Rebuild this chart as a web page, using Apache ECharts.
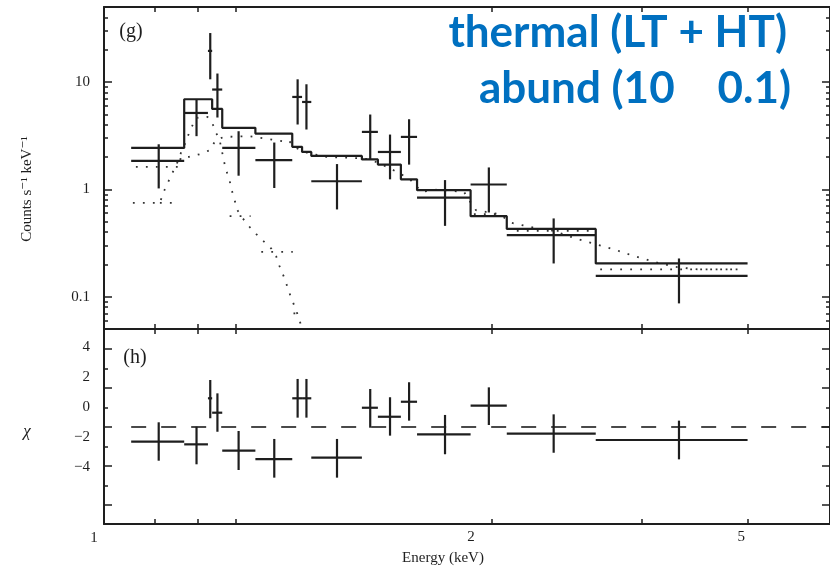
<!DOCTYPE html>
<html><head><meta charset="utf-8">
<script src="https://cdn.jsdelivr.net/npm/echarts@6/dist/echarts.min.js"></script>
<style>html,body{margin:0;padding:0;background:#fff}#c{width:830px;height:571px}</style>
</head><body><div id="c"></div>
<script>
// ---------------- data ----------------
// energy bin edges (keV), shared by spectrum, model and residuals
const binEdges = [0.551, 0.666, 0.725, 0.736, 0.763, 0.859, 0.98, 1.015, 1.049, 1.257, 1.331, 1.445, 1.531, 1.854, 2.11, 2.90, 4.99];
// energy of the vertical error bar of each data point
const dataE = [0.608, 0.696, 0.731, 0.750, 0.809, 0.919, 0.999, 1.031, 1.150, 1.295, 1.390, 1.488, 1.692, 1.979, 2.495, 3.905];
// count rate (counts s^-1 keV^-1) and its error range
const rate   = [1.84, 5.15, 19.5, 8.51, 2.43, 1.87, 7.26, 6.52, 1.19, 3.43, 2.23, 3.08, 0.836, 1.11, 0.375, 0.156];
const rateHi = [2.63, 6.87, 28.6, 12.0, 3.48, 2.73, 10.6, 9.53, 1.72, 4.98, 3.24, 4.50, 1.22, 1.60, 0.536, 0.227];
const rateLo = [1.02, 3.13, 10.6, 4.67, 1.34, 1.03, 4.02, 3.61, 0.650, 1.90, 1.24, 1.70, 0.457, 0.609, 0.204, 0.0866];
// total model per bin (solid step line)
const model  = [2.43, 6.91, 6.91, 5.61, 3.74, 3.31, 2.49, 2.23, 2.05, 1.90, 1.70, 1.24, 0.982, 0.563, 0.428, 0.204];
// LT component (dotted)
const ltE = [0.5544, 0.6106, 0.6178, 0.6267, 0.6366, 0.6480, 0.6580, 0.6656, 0.6739, 0.6836, 0.6942, 0.7092, 0.7237, 0.7364, 0.7454, 0.7545, 0.7606, 0.7677, 0.7743, 0.7835, 0.7899, 0.7976, 0.8053, 0.8207, 0.8393, 0.8618, 0.8845, 0.9091, 0.9255, 0.9364, 0.9499, 0.9611, 0.9728, 0.9854, 0.9974, 1.0092, 1.0146];
const ltF = [0.748, 0.748, 0.927, 1.117, 1.375, 1.704, 2.17, 2.52, 3.08, 3.77, 4.60, 4.75, 4.73, 4.16, 3.38, 3.02, 2.42, 1.83, 1.49, 1.20, 0.968, 0.793, 0.640, 0.539, 0.454, 0.383, 0.329, 0.281, 0.237, 0.1925, 0.1564, 0.1281, 0.1034, 0.0847, 0.0699, 0.0564, 0.049];
// LT flat pieces: [E start, E end, value]
const ltSteps = [[0.6106, 0.6487, 0.748], [0.7835, 0.8444, 0.5626], [0.8773, 0.9819, 0.2617], [0.9843, 0.9985, 0.0699]];
// HT component (dotted)
const htE = [0.5604, 0.6533, 0.6580, 0.6778, 0.7041, 0.7297, 0.7454, 0.7677, 0.8414, 0.8845, 0.9465, 0.9670, 0.9879, 1.0347, 1.1070, 1.2453, 1.2950, 1.3468, 1.4357, 1.4970, 1.5568, 1.6442, 1.8108, 1.8434, 1.8900, 2.0510, 2.1485, 2.3155, 2.4954, 2.6802, 2.8768, 3.0978, 3.3271, 3.5758, 3.8500, 4.1828, 4.8250];
const htF = [1.619, 1.619, 1.993, 2.006, 2.126, 2.316, 2.870, 3.08, 3.126, 2.996, 2.809, 2.870, 2.470, 2.186, 2.006, 1.951, 1.897, 1.715, 1.423, 1.217, 0.947, 0.997, 0.947, 0.793, 0.640, 0.587, 0.487, 0.4415, 0.4104, 0.3532, 0.3133, 0.2755, 0.2385, 0.2112, 0.1897, 0.1794, 0.1794];
const htSteps = [[1.876, 2.088, 0.587], [2.1871, 2.8668, 0.4104], [2.9468, 4.825, 0.1794]];
// residuals (chi, in the units of the printed labels)
const chi   = [-2.31, -2.49, 0.58, -0.38, -2.91, -3.47, 0.58, 0.58, -3.38, -0.05, -0.65, 0.35, -1.82, 0.09, -1.78, -2.20];
const chiHi = [-1.02, -1.31, 1.80, 0.91, -1.60, -2.13, 1.87, 1.87, -2.13, 1.20, 0.65, 1.65, -0.53, 1.31, -0.49, -0.91];
const chiLo = [-3.58, -3.82, -0.75, -1.65, -4.20, -4.71, -0.71, -0.71, -4.71, -1.38, -1.91, -0.91, -3.15, -1.20, -3.05, -3.49];
const chiRef = -1.333;           // dashed reference line
// axis ticks / labels
const xTickVals  = [0.6, 0.7, 0.8, 2, 3.42, 5];
const xLabelPos  = [1.856, 4.877];
const xLabelText = ['2', '5'];
const yMajor     = [0.1, 1, 10];
const yMajorText = ['0.1', '1', '10'];
const yMinor     = [0.06, 0.07, 0.08, 0.09, 0.2, 0.3, 0.4, 0.5, 0.6, 0.7, 0.8, 0.9, 2, 3, 4, 5, 6, 7, 8, 9, 20, 30, 40];
const chiLabelPos  = [4, 2, 0, -2, -4];
const chiLabelText = ['4', '2', '0', '\u22122', '\u22124'];
const chiLongTicks  = [3.867, 1.267, -1.333, -3.933, -6.5];
const chiShortTicks = [2.567, -0.033, -2.633, -5.233];

// ---------------- chart ----------------
const INK = '#1e1e1e';
const SERIF = '"Liberation Serif", "DejaVu Serif", serif';
const X_MIN = 0.5, X_MAX = 6.7, Y_MIN = 0.05, Y_MAX = 50, C_MIN = -7.8, C_MAX = 5.2;

function nearestText(v, pos, txt, log) {
  let bi = 0, bd = Infinity;
  pos.forEach((p, i) => { const d = log ? Math.abs(Math.log(v) - Math.log(p)) : Math.abs(v - p); if (d < bd) { bd = d; bi = i; } });
  return txt[bi];
}

function xAx(grid, pos, extra) {
  return Object.assign({
    type: 'log', logBase: 10, gridIndex: grid, position: pos, min: X_MIN, max: X_MAX,
    axisLine: { show: true, onZero: false, lineStyle: { color: INK, width: 2 } },
    axisTick: { show: true, inside: true, length: 5, customValues: xTickVals, lineStyle: { color: INK, width: 1.5 } },
    axisLabel: { show: false }, splitLine: { show: false }, minorTick: { show: false }
  }, extra || {});
}
function yLog(pos, ticks, len, line, extra) {
  return Object.assign({
    type: 'log', logBase: 10, gridIndex: 0, position: pos, min: Y_MIN, max: Y_MAX,
    axisLine: { show: line, onZero: false, lineStyle: { color: INK, width: 2 } },
    axisTick: { show: true, inside: true, length: len, customValues: ticks, lineStyle: { color: INK, width: 1.5 } },
    axisLabel: { show: false }, splitLine: { show: false }
  }, extra || {});
}
function yChi(pos, ticks, len, line, extra) {
  return Object.assign({
    type: 'value', gridIndex: 1, position: pos, min: C_MIN, max: C_MAX,
    axisLine: { show: line, onZero: false, lineStyle: { color: INK, width: 2 } },
    axisTick: { show: true, inside: true, length: len, customValues: ticks, lineStyle: { color: INK, width: 1.5 } },
    axisLabel: { show: false }, splitLine: { show: false }
  }, extra || {});
}

const labelStyle = { show: true, color: INK, fontFamily: SERIF, fontSize: 15 };

const specData = dataE.map((e, i) => [binEdges[i], binEdges[i + 1], e, rate[i], rateLo[i], rateHi[i]]);
const chiData  = dataE.map((e, i) => [binEdges[i], binEdges[i + 1], e, chi[i], chiLo[i], chiHi[i]]);
const modelPts = [];
model.forEach((m, i) => { modelPts.push([binEdges[i], m]); modelPts.push([binEdges[i + 1], m]); });

function errRender(params, api) {
  const xl = api.value(0), xh = api.value(1), xc = api.value(2), y = api.value(3), yl = api.value(4), yh = api.value(5);
  const a = api.coord([xl, y]), b = api.coord([xh, y]), c = api.coord([xc, yl]), d = api.coord([xc, yh]);
  const st = { stroke: INK, lineWidth: 2.2 };
  return { type: 'group', children: [
    { type: 'line', shape: { x1: a[0], y1: a[1], x2: b[0], y2: b[1] }, style: st },
    { type: 'line', shape: { x1: c[0], y1: c[1], x2: d[0], y2: d[1] }, style: st }
  ] };
}

const dotted = { color: '#333', width: 1.8, type: [1.8, 8.2] };
const series = [];
series.push({ type: 'line', xAxisIndex: 0, yAxisIndex: 0, data: ltE.map((e, i) => [e, ltF[i]]), symbol: 'none', lineStyle: dotted, silent: true, clip: true });
series.push({ type: 'line', xAxisIndex: 0, yAxisIndex: 0, data: htE.map((e, i) => [e, htF[i]]), symbol: 'none', lineStyle: dotted, silent: true, clip: true });
ltSteps.concat(htSteps).forEach(s => {
  series.push({ type: 'line', xAxisIndex: 0, yAxisIndex: 0, data: [[s[0], s[2]], [s[1], s[2]]], symbol: 'none', lineStyle: dotted, silent: true });
});
series.push({ type: 'line', xAxisIndex: 0, yAxisIndex: 0, data: modelPts, symbol: 'none', lineStyle: { color: INK, width: 2.2 }, silent: true });
series.push({ type: 'custom', xAxisIndex: 0, yAxisIndex: 0, data: specData, renderItem: errRender, encode: { x: [0, 1, 2], y: [3, 4, 5] }, silent: true });
series.push({ type: 'line', xAxisIndex: 2, yAxisIndex: 4, data: [[binEdges[0], chiRef], [X_MAX, chiRef]], symbol: 'none', lineStyle: { color: INK, width: 1.6, type: [15, 15] }, silent: true });
series.push({ type: 'custom', xAxisIndex: 2, yAxisIndex: 4, data: chiData, renderItem: errRender, encode: { x: [0, 1, 2], y: [3, 4, 5] }, silent: true });

const option = {
  animation: false,
  backgroundColor: '#fff',
  grid: [
    { left: 104, top: 7, right: -2, height: 322 },
    { left: 104, top: 329, right: -2, height: 195 }
  ],
  xAxis: [
    xAx(0, 'bottom'),
    xAx(0, 'top'),
    xAx(1, 'bottom', { axisLabel: Object.assign({}, labelStyle, { margin: 6, customValues: xLabelPos, formatter: v => nearestText(v, xLabelPos, xLabelText, true) }) }),
    xAx(1, 'top')
  ],
  yAxis: [
    yLog('left', yMajor, 8, true, { axisLabel: Object.assign({}, labelStyle, { margin: 14, customValues: yMajor, formatter: v => nearestText(v, yMajor, yMajorText, true) }) }),
    yLog('left', yMinor, 4, false),
    yLog('right', yMajor, 8, true),
    yLog('right', yMinor, 4, false),
    yChi('left', chiLongTicks, 8, true, { axisLabel: Object.assign({}, labelStyle, { margin: 14, customValues: chiLabelPos, formatter: v => nearestText(v, chiLabelPos, chiLabelText, false) }) }),
    yChi('left', chiShortTicks, 4, false),
    yChi('right', chiLongTicks, 8, true),
    yChi('right', chiShortTicks, 4, false)
  ],
  series: series,
  graphic: [
    { type: 'text', x: 27, y: 189, rotation: Math.PI / 2, silent: true,
      style: { text: 'Counts s\u207B\u00B9 keV\u207B\u00B9', fill: INK, font: '15px ' + SERIF, align: 'center', verticalAlign: 'middle' } },
    { type: 'text', x: 27, y: 432, silent: true,
      style: { text: '\u03C7', fill: INK, font: 'italic 17px ' + SERIF, align: 'center', verticalAlign: 'middle' } },
    { type: 'text', x: 443, y: 558, silent: true,
      style: { text: 'Energy (keV)', fill: INK, font: '15px ' + SERIF, align: 'center', verticalAlign: 'middle' } },
    { type: 'text', x: 94, y: 538, silent: true,
      style: { text: '1', fill: INK, font: '15px ' + SERIF, align: 'center', verticalAlign: 'middle' } },
    { type: 'text', x: 131, y: 32, silent: true,
      style: { text: '(g)', fill: INK, font: '20px ' + SERIF, align: 'center', verticalAlign: 'middle' } },
    { type: 'text', x: 135, y: 358, silent: true,
      style: { text: '(h)', fill: INK, font: '20px ' + SERIF, align: 'center', verticalAlign: 'middle' } },
    { type: 'text', x: 787, y: 33, silent: true,
      style: { text: 'thermal (LT + HT)', fill: '#0070C0', font: 'bold 44px Lato, "Open Sans", sans-serif', align: 'right', verticalAlign: 'middle' } },
    { type: 'text', x: 791, y: 89, silent: true,
      style: { text: 'abund (10    0.1)', fill: '#0070C0', font: 'bold 44px Lato, "Open Sans", sans-serif', align: 'right', verticalAlign: 'middle' } }
  ]
};
const chart = echarts.init(document.getElementById('c'));
chart.setOption(option);
</script></body></html>
